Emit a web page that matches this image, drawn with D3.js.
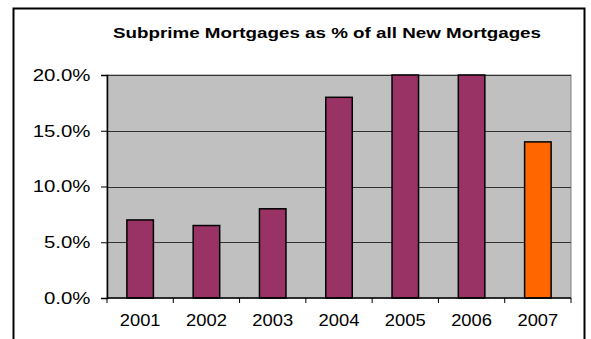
<!DOCTYPE html>
<html>
<head>
<meta charset="utf-8">
<script src="https://cdn.jsdelivr.net/npm/d3@7"></script>
<style>
  body { margin: 0; background: #fff; }
  text { font-family: "Liberation Sans", Arial, sans-serif; fill: #000; }
</style>
</head>
<body>
<script>
// data
var years = ["2001", "2002", "2003", "2004", "2005", "2006", "2007"];
var shares = [7.0, 6.5, 8.0, 18.0, 20.0, 20.0, 14.0];
var barColors = ["#993366", "#993366", "#993366", "#993366", "#993366", "#993366", "#FF6600"];
var yTicks = [0, 5, 10, 15, 20];

var W = 591, H = 339;
var plot = { left: 107, top: 75, right: 571, bottom: 298 };

var svg = d3.select("body").append("svg")
    .attr("width", W)
    .attr("height", H);

// outer chart frame (bottom edge runs off the picture)
svg.append("rect")
    .attr("x", 13.5).attr("y", 8.5)
    .attr("width", 571).attr("height", 345)
    .attr("fill", "#fff")
    .attr("stroke", "#000")
    .attr("stroke-width", 2);

// title is drawn a bit wide in the original, so stretch it
svg.append("text")
    .attr("x", 113).attr("y", 38)
    .attr("textLength", 428)
    .attr("lengthAdjust", "spacingAndGlyphs")
    .style("font-size", "15.5px")
    .style("font-weight", "bold")
    .text("Subprime Mortgages as % of all New Mortgages");

var x = d3.scaleBand().domain(years).range([plot.left, plot.right]).paddingInner(0.6).paddingOuter(0.3);
var y = d3.scaleLinear().domain([0, 20]).range([plot.bottom, plot.top]);

// grey plot area
svg.append("rect")
    .attr("x", plot.left).attr("y", plot.top)
    .attr("width", plot.right - plot.left)
    .attr("height", plot.bottom - plot.top)
    .attr("fill", "#C0C0C0")
    .attr("stroke", "#808080");

// gridlines
svg.append("g").selectAll("line")
    .data(yTicks.filter(d => d > 0))
    .enter().append("line")
    .attr("x1", plot.left).attr("x2", plot.right)
    .attr("y1", d => Math.round(y(d)) + 0.5)
    .attr("y2", d => Math.round(y(d)) + 0.5)
    .attr("stroke", "#333")
    .attr("stroke-width", 1);

svg.append("g").selectAll("rect")
    .data(shares)
    .enter().append("rect")
    .attr("x", (d, i) => x(years[i]))
    .attr("y", d => y(d))
    .attr("width", x.bandwidth())
    .attr("height", d => plot.bottom - y(d))
    .attr("fill", (d, i) => barColors[i])
    .attr("stroke", "#000")
    .attr("stroke-width", 1.5);

// y axis
var yAxis = svg.append("g")
    .attr("transform", "translate(" + plot.left + ",0)")
    .call(d3.axisLeft(y).tickValues(yTicks).tickSize(6).tickPadding(0)
        .tickFormat(d => d.toFixed(1) + "%"));
yAxis.select(".domain").attr("stroke", "#000").attr("stroke-width", 1.5);
yAxis.selectAll("text")
    .attr("x", 0)
    .attr("transform", "translate(-16.5,0) scale(1.2,1)")
    .style("font-size", "17px");

// x axis, ticks between categories
var step = (plot.right - plot.left) / years.length;
var xAxis = svg.append("g")
    .attr("transform", "translate(0," + plot.bottom + ")");
xAxis.append("line")
    .attr("x1", plot.left).attr("x2", plot.right)
    .attr("stroke", "#000").attr("stroke-width", 1.5);
xAxis.selectAll(".sep")
    .data(d3.range(years.length + 1))
    .enter().append("line")
    .attr("class", "sep")
    .attr("x1", i => plot.left + i * step).attr("x2", i => plot.left + i * step)
    .attr("y1", 0).attr("y2", 5)
    .attr("stroke", "#000");
xAxis.selectAll(".lbl")
    .data(years)
    .enter().append("text")
    .attr("class", "lbl")
    .attr("transform", d => "translate(" + (x(d) + x.bandwidth() / 2) + ",28) scale(1.08,1)")
    .attr("text-anchor", "middle")
    .style("font-size", "17px")
    .text(d => d);
</script>
</body>
</html>
